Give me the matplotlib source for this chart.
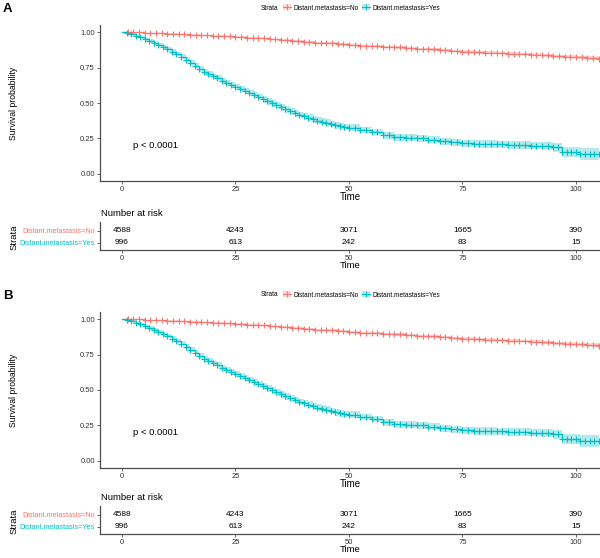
import numpy as np
import matplotlib
matplotlib.use('Agg')
import matplotlib.pyplot as plt
from matplotlib.patches import Patch
from matplotlib.lines import Line2D
from matplotlib.legend_handler import HandlerTuple

plt.rcParams['font.family'] = ['Liberation Sans', 'DejaVu Sans']

# survival curves
time_no = [0, 2.5, 5, 7.5, 10, 12.5, 15, 17.5, 20, 22.5,
           25, 27.5, 30, 32.5, 35, 37.5, 40, 42.5, 45, 47.5,
           50, 52.5, 55, 57.5, 60, 62.5, 65, 67.5, 70, 72.5,
           75, 77.5, 80, 82.5, 85, 87.5, 90, 92.5, 95, 97.5,
           100, 102.5, 105]
surv_no = [1.000, 0.998, 0.995, 0.992, 0.989, 0.985, 0.981, 0.978, 0.974, 0.970,
           0.966, 0.961, 0.955, 0.948, 0.942, 0.935, 0.930, 0.925, 0.920, 0.915,
           0.910, 0.905, 0.900, 0.896, 0.892, 0.888, 0.883, 0.878, 0.873, 0.868,
           0.862, 0.858, 0.855, 0.851, 0.848, 0.845, 0.841, 0.836, 0.830, 0.826,
           0.821, 0.816, 0.812]
ci_no = [0.000, 0.002, 0.002, 0.003, 0.003, 0.003, 0.004, 0.004, 0.004, 0.005,
         0.005, 0.005, 0.005, 0.006, 0.006, 0.006, 0.006, 0.006, 0.007, 0.007,
         0.007, 0.007, 0.007, 0.007, 0.008, 0.008, 0.008, 0.008, 0.008, 0.008,
         0.009, 0.009, 0.009, 0.009, 0.009, 0.010, 0.010, 0.010, 0.010, 0.011,
         0.011, 0.012, 0.012]

time_yes = [0, 1, 2, 3, 4, 5, 6, 7, 8, 9,
            10, 11, 12, 13, 14, 15, 16, 17, 18, 19,
            20, 21, 22, 23, 24, 25, 26, 27, 28, 29,
            30, 31, 32, 33, 34, 35, 36, 37, 38, 39,
            40, 41, 42, 43, 44, 45, 46, 47, 48, 49,
            50, 52.5, 55, 57.5, 60, 62.5, 65, 67.5, 70, 72.5,
            75, 77.5, 80, 82.5, 85, 87.5, 90, 92.5, 95, 97,
            99, 101, 103, 105]
surv_yes = [1.000, 0.995, 0.985, 0.975, 0.962, 0.950, 0.937, 0.922, 0.908, 0.894,
            0.880, 0.862, 0.845, 0.826, 0.806, 0.785, 0.763, 0.740, 0.720, 0.705,
            0.690, 0.674, 0.658, 0.643, 0.629, 0.615, 0.599, 0.583, 0.568, 0.554,
            0.540, 0.526, 0.512, 0.498, 0.484, 0.470, 0.456, 0.442, 0.428, 0.416,
            0.405, 0.395, 0.385, 0.376, 0.368, 0.360, 0.352, 0.344, 0.337, 0.331,
            0.325, 0.310, 0.295, 0.272, 0.258, 0.255, 0.250, 0.242, 0.230, 0.222,
            0.215, 0.212, 0.210, 0.208, 0.205, 0.203, 0.200, 0.196, 0.188, 0.155,
            0.155, 0.143, 0.143, 0.143]
ci_yes = [0.000, 0.004, 0.006, 0.008, 0.009, 0.010, 0.011, 0.012, 0.013, 0.014,
          0.015, 0.016, 0.016, 0.016, 0.016, 0.016, 0.018, 0.018, 0.018, 0.018,
          0.018, 0.020, 0.020, 0.020, 0.020, 0.020, 0.022, 0.022, 0.022, 0.022,
          0.022, 0.024, 0.024, 0.024, 0.024, 0.024, 0.024, 0.024, 0.024, 0.024,
          0.024, 0.024, 0.024, 0.024, 0.024, 0.024, 0.024, 0.024, 0.024, 0.024,
          0.024, 0.024, 0.024, 0.024, 0.024, 0.025, 0.025, 0.025, 0.025, 0.025,
          0.025, 0.026, 0.026, 0.026, 0.026, 0.027, 0.027, 0.028, 0.030, 0.036,
          0.036, 0.042, 0.042, 0.042]

strata = ['Distant.metastasis=No', 'Distant.metastasis=Yes']
risk_times = [0, 25, 50, 75, 100]
risk_no = [4588, 4243, 3071, 1665, 390]
risk_yes = [996, 613, 242, 83, 15]
panels = ['A', 'B']

red = '#F8766D'
teal = '#00BFC4'
dark = '#333333'
W, H = 600, 558
XLIM = (-4.85, 105.3)


def box(l, t, r, b):
    return [l / W, 1 - b / H, (r - l) / W, (b - t) / H]


def style(ax):
    for s in ['top', 'right']:
        ax.spines[s].set_visible(False)
    for s in ['left', 'bottom']:
        ax.spines[s].set_color('#4d4d4d')
        ax.spines[s].set_linewidth(0.9)
    ax.tick_params(length=2.2, width=0.6, color='#4d4d4d', labelsize=5.5, labelcolor=dark, pad=1.5)


def censor_marks(t, s):
    # marks on every step plus one between wide steps
    t = np.array(t, dtype=float)
    s = np.array(s)
    mt = list(t[1:])
    ms = list(s[1:])
    gap = np.diff(t)
    for i in range(len(gap)):
        if gap[i] > 1.5:
            mt.append(t[i] + gap[i] / 2)
            ms.append(s[i])
    return mt, ms


fig = plt.figure(figsize=(6, 5.58), dpi=100)

for k, letter in enumerate(panels):
    off = 287 * k
    ax = fig.add_axes(box(100, 25 + off, 600, 181 + off))
    style(ax)
    for t, s, ci, c in [(time_no, surv_no, ci_no, red), (time_yes, surv_yes, ci_yes, teal)]:
        s = np.array(s)
        ci = np.array(ci)
        ax.fill_between(t, s - ci, s + ci, step='post', color=c, alpha=0.3, lw=0)
        ax.step(t, s, where='post', color=c, lw=0.9)
        mt, ms = censor_marks(t, s)
        ax.plot(mt, ms, ls='none', marker='+', color=c, ms=4.2, mew=0.8)
    ax.set_xlim(*XLIM)
    ax.set_ylim(-0.05, 1.05)
    ax.set_xticks(risk_times)
    ax.set_yticks([0, 0.25, 0.5, 0.75, 1.0])
    ax.set_yticklabels(['0.00', '0.25', '0.50', '0.75', '1.00'])
    ax.text(2.4, 0.2, 'p < 0.0001', fontsize=6.8, va='center', ha='left', color='black')

    fig.text(14 / W, 1 - (103 + off) / H, 'Survival probability', rotation=90,
             ha='center', va='center', fontsize=6.2)
    fig.text(350 / W, 1 - (197 + off) / H, 'Time', ha='center', va='center', fontsize=7)
    fig.text(3 / W, 1 - (9 + off) / H, letter, ha='left', va='center', fontsize=9.5, fontweight='bold')

    # legend
    fig.text(261 / W, 1 - (8 + off) / H, 'Strata', ha='left', va='center', fontsize=4.7)
    handles = [(Patch(facecolor=red, alpha=0.3), Line2D([], [], color=red, marker='+', lw=0.8, ms=4, mew=0.7)),
               (Patch(facecolor=teal, alpha=0.3), Line2D([], [], color=teal, marker='+', lw=0.8, ms=4, mew=0.7))]
    fig.legend(handles=handles, labels=strata, loc='center left',
               bbox_to_anchor=(283 / W, 1 - (8 + off) / H), ncol=2, frameon=False,
               fontsize=4.7, handlelength=1.3, handleheight=1.0, handletextpad=0.3,
               columnspacing=0.5, borderaxespad=0, borderpad=0,
               handler_map={tuple: HandlerTuple(ndivide=1)})

    # risk table (second one nudged up a little so its x label fits)
    roff = off - 3 * k
    rax = fig.add_axes(box(100, 222 + roff, 600, 250 + roff))
    style(rax)
    rax.set_xlim(*XLIM)
    rax.set_ylim(0.4, 2.75)
    rax.set_xticks(risk_times)
    rax.set_yticks([2, 1])
    rax.set_yticklabels(strata, fontsize=5.2)
    for lab, c in zip(rax.get_yticklabels(), [red, teal]):
        lab.set_color(c)
    for t, n1, n2 in zip(risk_times, risk_no, risk_yes):
        rax.text(t, 2, str(n1), ha='center', va='center', fontsize=6)
        rax.text(t, 1, str(n2), ha='center', va='center', fontsize=6)
    fig.text(101 / W, 1 - (214 + roff) / H, 'Number at risk', ha='left', va='center', fontsize=6.8)
    fig.text(14 / W, 1 - (237 + roff) / H, 'Strata', rotation=90, ha='center', va='center', fontsize=6.8)
    fig.text(350 / W, 1 - (266 + roff) / H, 'Time', ha='center', va='center', fontsize=6.8)

fig.savefig('out.png', dpi=100)
